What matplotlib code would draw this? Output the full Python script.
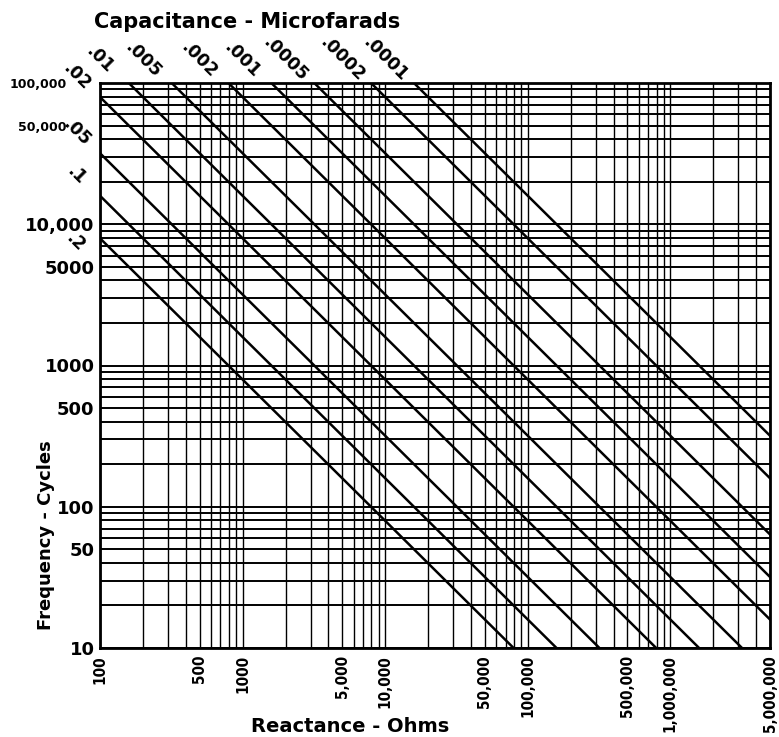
import numpy as np
import matplotlib.pyplot as plt
from matplotlib.ticker import LogLocator, NullFormatter

# capacitance lines, microfarads
caps = [0.0001, 0.0002, 0.0005, 0.001, 0.002, 0.005, 0.01, 0.02, 0.05, 0.1, 0.2]
cap_labels = ['.0001', '.0002', '.0005', '.001', '.002', '.005', '.01', '.02', '.05', '.1', '.2']

freq_ticks = [10, 50, 100, 500, 1000, 5000, 10000, 50000, 100000]
freq_labels = ['10', '50', '100', '500', '1000', '5000', '10,000', '50,000', '100,000']

ohm_ticks = [100, 500, 1000, 5000, 10000, 50000, 100000, 500000, 1000000, 5000000]
ohm_labels = ['100', '500', '1000', '5,000', '10,000', '50,000', '100,000',
              '500,000', '1,000,000', '5,000,000']

fig = plt.figure(figsize=(7.79, 7.37), dpi=100)
ax = fig.add_axes([100/779, 1-648/737, 670/779, 565/737])
ax.set_xscale('log')
ax.set_yscale('log')
ax.set_xlim(100, 5e6)
ax.set_ylim(10, 1e5)

# grid
minor = np.arange(2, 10)
ax.xaxis.set_minor_locator(LogLocator(base=10, subs=minor, numticks=30))
ax.yaxis.set_minor_locator(LogLocator(base=10, subs=minor, numticks=30))
ax.xaxis.set_minor_formatter(NullFormatter())
ax.yaxis.set_minor_formatter(NullFormatter())
ax.set_xticks(ohm_ticks, ohm_labels, rotation=90, fontsize=11, fontweight='bold',
              fontstretch='condensed')
ax.set_yticks(freq_ticks, freq_labels, fontsize=13, fontweight='bold')
ax.grid(which='both', axis='x', color='k', lw=1.0)
ax.grid(which='both', axis='y', color='k', lw=1.4)
ax.tick_params(which='both', length=0)
ax.tick_params(axis='y', pad=4)
ax.tick_params(axis='x', pad=5)
for t in ax.yaxis.get_major_ticks()[7:]:
    t.set_pad(24)
    t.label1.set_fontsize(9)
for s in ax.spines.values():
    s.set_linewidth(2)

# X = 1 / (2 pi f C)
f = np.logspace(1, 5, 300)
for c, lab in zip(caps, cap_labels):
    x = 1e6 / (2*np.pi*f*c)
    ax.plot(x, f, color='k', lw=1.8)
    f0 = min(1e5, 1e6 / (2*np.pi*100*c))
    x0 = 1e6 / (2*np.pi*f0*c)
    if f0 >= 1e5:
        off = (-21, 17)
    elif lab == '.2':
        off = (-18, -3)
    else:
        off = (-17, 15)
    ax.annotate(lab, (x0, f0), xytext=off, textcoords='offset points',
                rotation=-45, ha='center', va='center', fontsize=12.5,
                fontweight='bold', annotation_clip=False)

fig.text(247/779, 1-22/737, 'Capacitance - Microfarads', ha='center', va='center',
         fontsize=15, fontweight='bold')
fig.text(350/779, 1-726/737, 'Reactance - Ohms', ha='center', va='center',
         fontsize=14, fontweight='bold')
fig.text(46/779, 1-535/737, 'Frequency - Cycles', ha='center', va='center',
         rotation=90, fontsize=13, fontweight='bold')

fig.savefig('out.png', dpi=100)
